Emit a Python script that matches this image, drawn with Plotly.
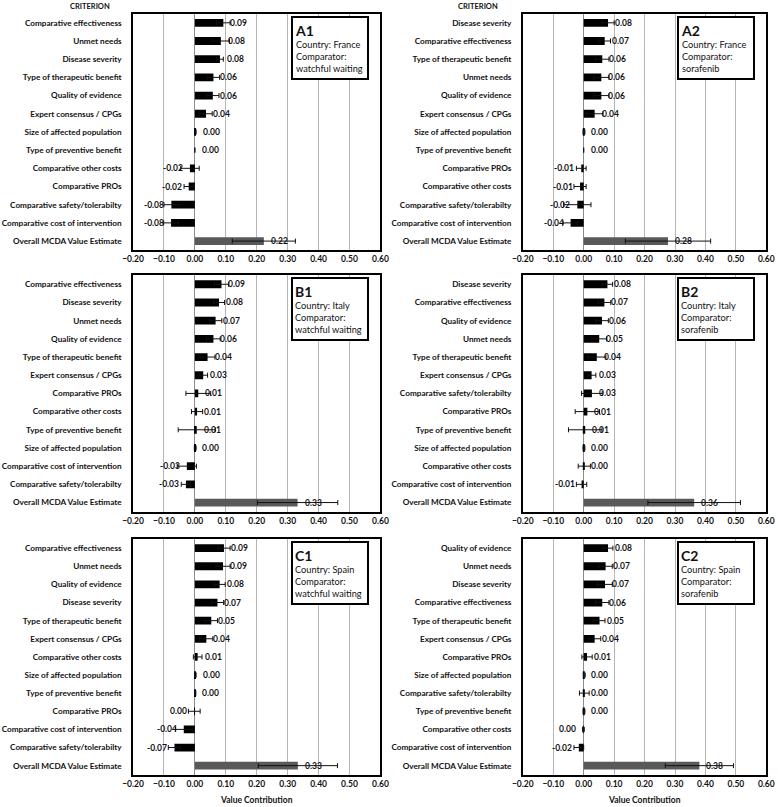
import plotly.graph_objects as go

# panel A1: France, watchful waiting
a1_criteria = ["Comparative effectiveness", "Unmet needs", "Disease severity",
               "Type of therapeutic benefit", "Quality of evidence",
               "Expert consensus / CPGs", "Size of affected population",
               "Type of preventive benefit", "Comparative other costs",
               "Comparative PROs", "Comparative safety/tolerabilty",
               "Comparative cost of intervention", "Overall MCDA Value Estimate"]
a1_values = [0.092, 0.084, 0.081, 0.060, 0.058, 0.036, 0.002, 0.0,
             -0.016, -0.020, -0.076, -0.077, 0.223]
a1_errors = [0.022, 0.028, 0.011, 0.020, 0.020, 0.020, 0.002, 0.0,
             0.030, 0.015, 0.024, 0.024, 0.102]

# panel A2: France, sorafenib
a2_criteria = ["Disease severity", "Comparative effectiveness",
               "Type of therapeutic benefit", "Unmet needs", "Quality of evidence",
               "Expert consensus / CPGs", "Size of affected population",
               "Type of preventive benefit", "Comparative PROs",
               "Comparative other costs", "Comparative safety/tolerabilty",
               "Comparative cost of intervention", "Overall MCDA Value Estimate"]
a2_values = [0.080, 0.069, 0.061, 0.058, 0.058, 0.036, 0.001, 0.0,
             -0.008, -0.012, -0.021, -0.043, 0.277]
a2_errors = [0.020, 0.019, 0.022, 0.025, 0.025, 0.027, 0.003, 0.0,
             0.016, 0.020, 0.045, 0.025, 0.140]

# panel B1: Italy, watchful waiting
b1_criteria = ["Comparative effectiveness", "Disease severity", "Unmet needs",
               "Quality of evidence", "Type of therapeutic benefit",
               "Expert consensus / CPGs", "Comparative PROs",
               "Comparative other costs", "Type of preventive benefit",
               "Size of affected population", "Comparative cost of intervention",
               "Comparative safety/tolerabilty", "Overall MCDA Value Estimate"]
b1_values = [0.086, 0.078, 0.067, 0.060, 0.041, 0.027, 0.011, 0.007,
             0.006, 0.001, -0.026, -0.029, 0.332]
b1_errors = [0.023, 0.018, 0.020, 0.022, 0.024, 0.014, 0.040, 0.018,
             0.060, 0.003, 0.031, 0.015, 0.130]

# panel B2: Italy, sorafenib
b2_criteria = ["Disease severity", "Comparative effectiveness",
               "Quality of evidence", "Unmet needs", "Type of therapeutic benefit",
               "Expert consensus / CPGs", "Comparative safety/tolerabilty",
               "Comparative PROs", "Type of preventive benefit",
               "Size of affected population", "Comparative other costs",
               "Comparative cost of intervention", "Overall MCDA Value Estimate"]
b2_values = [0.078, 0.068, 0.060, 0.051, 0.043, 0.026, 0.027, 0.012,
             0.005, 0.001, 0.002, -0.007, 0.363]
b2_errors = [0.017, 0.021, 0.021, 0.024, 0.030, 0.014, 0.034, 0.040,
             0.055, 0.003, 0.020, 0.017, 0.152]

# panel C1: Spain, watchful waiting
c1_criteria = ["Comparative effectiveness", "Unmet needs", "Quality of evidence",
               "Disease severity", "Type of therapeutic benefit",
               "Expert consensus / CPGs", "Comparative other costs",
               "Size of affected population", "Type of preventive benefit",
               "Comparative PROs", "Comparative cost of intervention",
               "Comparative safety/tolerabilty", "Overall MCDA Value Estimate"]
c1_values = [0.094, 0.091, 0.080, 0.073, 0.053, 0.037, 0.009, 0.002,
             0.001, -0.002, -0.036, -0.066, 0.333]
c1_errors = [0.020, 0.023, 0.018, 0.020, 0.020, 0.021, 0.014, 0.002,
             0.002, 0.019, 0.027, 0.020, 0.128]

# panel C2: Spain, sorafenib
c2_criteria = ["Quality of evidence", "Unmet needs", "Disease severity",
               "Comparative effectiveness", "Type of therapeutic benefit",
               "Expert consensus / CPGs", "Comparative PROs",
               "Size of affected population", "Comparative safety/tolerabilty",
               "Type of preventive benefit", "Comparative other costs",
               "Comparative cost of intervention", "Overall MCDA Value Estimate"]
c2_values = [0.080, 0.072, 0.070, 0.061, 0.052, 0.036, 0.011, 0.002,
             0.002, 0.001, -0.001, -0.016, 0.380]
c2_errors = [0.016, 0.022, 0.024, 0.022, 0.018, 0.020, 0.017, 0.003,
             0.016, 0.003, 0.003, 0.016, 0.112]

panel_names = ["A1", "A2", "B1", "B2", "C1", "C2"]
countries = ["France", "France", "Italy", "Italy", "Spain", "Spain"]
comparators = ["watchful waiting", "sorafenib"] * 3
x_ticks = [-0.20, -0.10, 0.00, 0.10, 0.20, 0.30, 0.40, 0.50, 0.60]

panels = [(a1_criteria, a1_values, a1_errors), (a2_criteria, a2_values, a2_errors),
          (b1_criteria, b1_values, b1_errors), (b2_criteria, b2_values, b2_errors),
          (c1_criteria, c1_values, c1_errors), (c2_criteria, c2_values, c2_errors)]

col_domains = [[0.171, 0.489], [0.672, 0.985]]
row_domains = [[0.690, 0.983], [0.366, 0.659], [0.040, 0.332]]

FONT = "Lato"
INK = "#111111"
fig = go.Figure()
layout = dict(width=778, height=807, margin=dict(l=0, r=0, t=0, b=0),
              paper_bgcolor="white", plot_bgcolor="white", showlegend=False,
              font=dict(family=FONT, color=INK), annotations=[])


def fmt(v):
    s = "%.2f" % v
    return "0.00" if s == "-0.00" else s


for i, (crit, vals, errs) in enumerate(panels):
    n = i + 1
    key = "" if n == 1 else str(n)
    xa, ya = "x" + key, "y" + key
    colors = ["#000000"] * (len(vals) - 1) + ["#595959"]
    fig.add_trace(go.Bar(
        x=vals, y=crit, orientation="h", width=0.43,
        marker=dict(color=colors, line=dict(width=0)),
        error_x=dict(type="data", array=errs, color=INK, thickness=1, width=2.5),
        xaxis=xa, yaxis=ya, hoverinfo="skip"))

    # value labels just outside the bar end
    for c, v in zip(crit, vals):
        layout["annotations"].append(dict(
            xref=xa, yref=ya, x=v, y=c, text=fmt(v), showarrow=False,
            xanchor="left" if v >= 0 else "right",
            xshift=5 if v >= 0 else -5,
            font=dict(family=FONT, size=8.5, weight="bold", color=INK)))

    col, row = i % 2, i // 2
    layout["xaxis" + key] = dict(
        domain=col_domains[col], anchor=ya, range=[-0.2, 0.6], automargin=False,
        tickvals=x_ticks, tickformat=".2f", showgrid=True,
        gridcolor="#b5b5b5", gridwidth=1, zeroline=True, zerolinecolor="#8c8c8c",
        zerolinewidth=1, showline=True, linecolor="black", linewidth=1.5,
        mirror=True, ticks="", fixedrange=True,
        tickfont=dict(family=FONT, size=8.5, weight="bold", color=INK))
    layout["yaxis" + key] = dict(
        domain=row_domains[row], anchor=xa, autorange="reversed", automargin=False,
        type="category", showgrid=False, zeroline=False, showline=True,
        linecolor="black", linewidth=1.5, mirror=True, ticks="",
        ticklabelstandoff=8, fixedrange=True,
        tickfont=dict(family=FONT, size=8.2, weight="bold", color=INK))

    layout["annotations"].append(dict(
        xref=xa + " domain", yref=ya + " domain", x=0.953, y=0.992,
        xanchor="right", yanchor="top", align="left", valign="middle",
        showarrow=False, bgcolor="white", bordercolor="black", borderwidth=2,
        borderpad=2, width=70, height=56,
        text="<span style='font-size:14px'><b>%s</b></span><br>Country: %s<br>Comparator:<br>%s"
             % (panel_names[i], countries[i], comparators[i]),
        font=dict(family=FONT, size=9.2, color=INK)))

# column headers and axis titles
for col in range(2):
    layout["annotations"].append(dict(
        xref="paper", yref="paper", x=(0.116 if col == 0 else 0.614), y=1.0,
        xanchor="center", yanchor="top", showarrow=False, text="<b>CRITERION</b>",
        font=dict(family=FONT, size=7.5, color=INK)))
    mid = sum(col_domains[col]) / 2
    layout["annotations"].append(dict(
        xref="paper", yref="paper", x=mid, y=0.0, xanchor="center",
        yanchor="bottom", showarrow=False, text="<b>Value Contribution</b>",
        font=dict(family=FONT, size=8.5, color=INK)))

fig.update_layout(layout)
# drop the browser's default page margin so the figure sits at the top-left
fig.write_html("out.html", config={"displayModeBar": False},
               post_script="document.body.style.margin='0';")
